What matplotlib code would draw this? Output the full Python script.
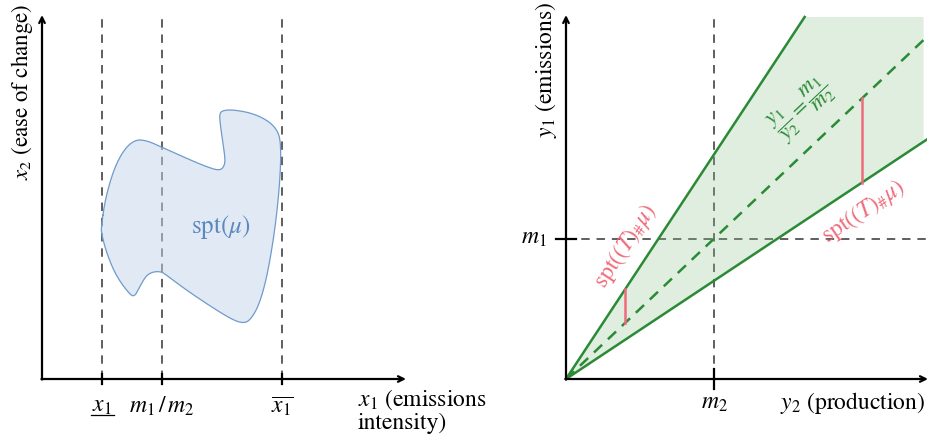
import numpy as np
import matplotlib
matplotlib.use("Agg")
import matplotlib.pyplot as plt

plt.rcParams['mathtext.fontset'] = 'stix'
plt.rcParams['font.family'] = 'STIXGeneral'

# ---- left panel values (x1 units) ----
x1_low = 1.0
x1_mid = 2.0          # m1/m2
x1_high = 4.0
left_max = 6.07
left_ticks = [x1_low, x1_mid, x1_high]
left_ticklabels = [r'$x_1$', r'$m_1\,/\,m_2$', r'$\overline{x_1}$']

# outline of spt(mu)
blob_x = [0.99, 1.05, 1.19, 1.36, 1.55, 1.74, 1.99, 2.41, 2.74, 2.97, 3.05, 3.05,
          3.01, 2.97, 2.96, 3.02, 3.19, 3.52, 3.80, 3.94, 3.98, 3.98, 3.94, 3.86,
          3.74, 3.61, 3.47, 3.36, 3.19, 2.86, 2.41, 2.08, 1.99, 1.86, 1.74, 1.63,
          1.55, 1.47, 1.24, 1.08, 0.99]
blob_y = [2.54, 2.98, 3.48, 3.82, 3.99, 3.98, 3.87, 3.68, 3.54, 3.47, 3.57, 3.71,
          3.98, 4.26, 4.43, 4.48, 4.49, 4.43, 4.29, 4.12, 3.93, 3.54, 2.98, 2.32,
          1.65, 1.21, 0.98, 0.93, 0.98, 1.18, 1.48, 1.73, 1.79, 1.79, 1.73, 1.54,
          1.38, 1.40, 1.71, 2.09, 2.43]

# ---- right panel values ----
m1 = 1.0
m2 = 1.0
slope_hi = 1.6
slope_mid = m1 / m2
slope_lo = 0.7
right_xmax = 2.446
right_ymax = 2.594
top_cut = 2.58
seg_a_x = 0.4      # red segment between upper and middle line
seg_b_x = 2.0      # red segment between middle and lower line

green = '#2a8a36'
red = '#ef6b7b'
blue = '#5b88bf'
gray = '#333333'
FS = 17


def chaikin(xs, ys, n=3):
    pts = np.column_stack([xs, ys])
    for _ in range(n):
        q = 0.75 * pts + 0.25 * np.roll(pts, -1, axis=0)
        r = 0.25 * pts + 0.75 * np.roll(pts, -1, axis=0)
        pts = np.empty((2 * len(q), 2))
        pts[0::2] = q
        pts[1::2] = r
    return pts[:, 0], pts[:, 1]


fig = plt.figure(figsize=(9.28, 4.4), dpi=100)
H = 440.0
W = 928.0
axL = fig.add_axes([42 / W, 61 / H, 364 / W, 364 / H])
axR = fig.add_axes([566 / W, 61 / H, 362 / W, 364 / H])
for ax in (axL, axR):
    ax.set_axis_off()

# ===== left =====
axL.set_xlim(0, left_max)
axL.set_ylim(0, left_max)
for xv in left_ticks:
    axL.plot([xv, xv], [0, left_max], color=gray, lw=1.1, dashes=(5.5, 4.5), zorder=1, clip_on=False)
    axL.plot([xv, xv], [-0.09, 0.09], color='black', lw=1.6, zorder=4, clip_on=False)
bx, by = chaikin(blob_x, blob_y)
axL.fill(bx, by, facecolor='#c4d5ea', alpha=0.5, edgecolor='none', zorder=2)
axL.plot(np.append(bx, bx[0]), np.append(by, by[0]), color='#6f9bcb', lw=0.9, zorder=3)
axL.text(2.98, 2.54, r'$\mathrm{spt}(\mu)$', color=blue, fontsize=FS + 1, ha='center', va='center')

axL.annotate('', xy=(left_max, 0), xytext=(-0.01, 0), annotation_clip=False,
             arrowprops=dict(arrowstyle='->', lw=1.6, color='black', shrinkA=0, shrinkB=0))
axL.annotate('', xy=(0, left_max), xytext=(0, -0.01), annotation_clip=False,
             arrowprops=dict(arrowstyle='->', lw=1.6, color='black', shrinkA=0, shrinkB=0))
for xv, lab in zip(left_ticks, left_ticklabels):
    axL.text(xv, -0.45, lab, fontsize=FS, ha='center', va='center')
# underline for the lower bound label (mathtext has no \underline)
axL.plot([x1_low - 0.18, x1_low + 0.2], [-0.6, -0.6], color='black', lw=0.9, clip_on=False)
axL.text(5.27, -0.15, '$x_1$ (emissions\nintensity)', fontsize=FS, ha='left', va='top',
         linespacing=1.0)
axL.text(-0.33, 4.78, '$x_2$ (ease of change)', fontsize=FS - 0.5, rotation=90,
         ha='center', va='center')

# ===== right =====
axR.set_xlim(0, right_xmax)
axR.set_ylim(0, right_ymax)
axR.plot([m2, m2], [0, right_ymax], color=gray, lw=1.1, dashes=(5.5, 4.5), zorder=1, clip_on=False)
axR.plot([0, right_xmax], [m1, m1], color=gray, lw=1.1, dashes=(5.5, 4.5), zorder=1, clip_on=False)
axR.plot([m2, m2], [-0.07, 0.07], color='black', lw=1.6, zorder=4, clip_on=False)
axR.plot([-0.07, 0.07], [m1, m1], color='black', lw=1.6, zorder=4, clip_on=False)

xr = right_xmax - 0.01
x_top = top_cut / slope_hi
axR.fill([0, x_top, xr - 0.02, xr - 0.02], [0, top_cut, top_cut, slope_lo * (xr - 0.02)],
         facecolor='#8cc48f', alpha=0.28, edgecolor='none', zorder=2)
axR.plot([0, x_top], [0, top_cut], color=green, lw=1.8, zorder=3)
axR.plot([0, xr], [0, slope_lo * xr], color=green, lw=1.8, zorder=3)
axR.plot([0, xr], [0, slope_mid * xr], color=green, lw=1.8, dashes=(4.5, 3.2), zorder=3)

axR.plot([seg_a_x, seg_a_x], [slope_mid * seg_a_x, slope_hi * seg_a_x], color=red, lw=1.8, zorder=4)
axR.plot([seg_b_x, seg_b_x], [slope_lo * seg_b_x, slope_mid * seg_b_x], color=red, lw=1.8, zorder=4)

axR.text(0.405, 0.95, r'$\mathrm{spt}((T)_{\#}\mu)$', color=red, fontsize=FS,
         rotation=56.5, ha='center', va='center')
axR.text(2.007, 1.19, r'$\mathrm{spt}((T)_{\#}\mu)$', color=red, fontsize=FS,
         rotation=33.8, ha='center', va='center')
axR.text(1.595, 1.93, r'$\dfrac{y_1}{y_2} = \dfrac{m_1}{m_2}$', color=green, fontsize=16,
         rotation=43.4, ha='center', va='center')

axR.annotate('', xy=(right_xmax, 0), xytext=(-0.005, 0), annotation_clip=False,
             arrowprops=dict(arrowstyle='->', lw=1.6, color='black', shrinkA=0, shrinkB=0))
axR.annotate('', xy=(0, right_ymax), xytext=(0, -0.005), annotation_clip=False,
             arrowprops=dict(arrowstyle='->', lw=1.6, color='black', shrinkA=0, shrinkB=0))
axR.text(-0.216, m1, '$m_1$', fontsize=FS, ha='center', va='center')
axR.text(m2, -0.171, '$m_2$', fontsize=FS, ha='center', va='center')
axR.text(1.446, -0.171, '$y_2$ (production)', fontsize=FS, ha='left', va='center')
axR.text(-0.135, 2.2, '$y_1$ (emissions)', fontsize=FS, rotation=90, ha='center', va='center')

fig.savefig('out.png', dpi=100)
